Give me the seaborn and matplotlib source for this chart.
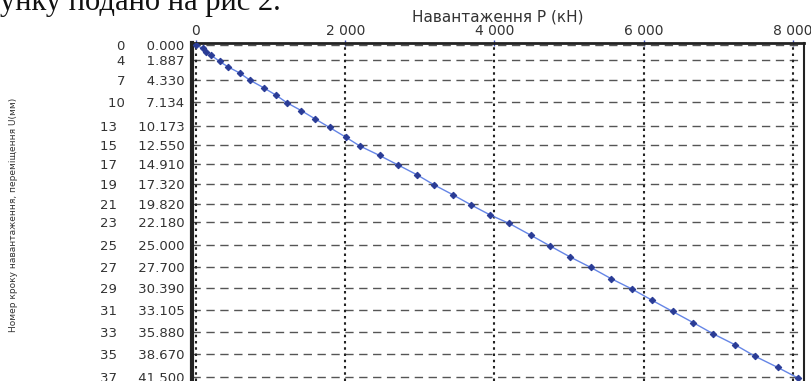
import matplotlib
matplotlib.use('Agg')
import matplotlib.pyplot as plt
import seaborn as sns
import pandas as pd

# Load P (kN) vs displacement U (mm)
load_kn = [0, 90, 134, 200, 317, 428, 588, 722, 909, 1070, 1226, 1413, 1591, 1791,
           2005, 2193, 2460, 2710, 2958, 3195, 3440, 3690, 3944, 4198, 4492, 4742,
           5015, 5290, 5562, 5842, 6110, 6386, 6662, 6930, 7229, 7490, 7794, 8061]
disp_mm = [0.0, 0.41, 0.84, 1.25, 2.04, 2.71, 3.5, 4.38, 5.34, 6.25, 7.25, 8.2, 9.2, 10.3,
           11.5, 12.6, 13.8, 15.0, 16.2, 17.5, 18.7, 20.0, 21.25, 22.3, 23.8, 25.1,
           26.5, 27.8, 29.2, 30.5, 31.9, 33.3, 34.7, 36.1, 37.5, 38.9, 40.3, 41.6]

# y ticks: load step number + displacement
step_no = [0, 4, 7, 10, 13, 15, 17, 19, 21, 23, 25, 27, 29, 31, 33, 35, 37]
step_disp = [0.000, 1.887, 4.330, 7.134, 10.173, 12.550, 14.910, 17.320, 19.820,
             22.180, 25.000, 27.700, 30.390, 33.105, 35.880, 38.670, 41.500]

x_ticks = [0, 2000, 4000, 6000, 8000]
x_tick_labels = ['0', '2 000', '4 000', '6 000', '8 000']

df = pd.DataFrame({'P': load_kn, 'U': disp_mm})

sns.set_style('white')
plt.rcParams['font.family'] = ['DejaVu Sans']

fig = plt.figure(figsize=(8.11, 3.81), dpi=100)
ax = fig.add_axes([192 / 811, 0.0, 612 / 811, 1 - 42.7 / 381])

sns.lineplot(data=df, x='P', y='U', ax=ax, color='#6585e6', linewidth=1.0,
             marker='D', markersize=3.3, markerfacecolor='#2a3c96',
             markeredgecolor='#2a3c96', sort=False, zorder=5)

ax.set_xlim(-53, 8147)
ax.set_ylim(42.0, -0.3)

# x axis on top
ax.xaxis.tick_top()
ax.xaxis.set_label_position('top')
ax.set_xticks(x_ticks)
ax.set_xticklabels(x_tick_labels, fontsize=10, color='#333333')
ax.set_xlabel('Навантаження P (кН)', fontsize=11, color='#333333', labelpad=2)

ax.set_yticks(step_disp)
ax.set_yticklabels([f'{s}     {v:.3f}' for s, v in zip(step_no, step_disp)],
                   fontsize=9.5, color='#333333')
ax.set_ylabel('Номер кроку навантаження, переміщення U(мм)', fontsize=6.5,
              color='#333333')
ax.yaxis.set_label_coords(-0.284, 0.49)

ax.tick_params(axis='both', which='both', direction='inout', length=5, width=1,
               color='#3a4bb0')
ax.tick_params(axis='y', pad=3)
ax.tick_params(axis='x', pad=1)

# grid: dashed horizontal, dotted vertical
ax.grid(False)
for v in step_disp:
    ax.axhline(v, color='#555555', linewidth=1.0, linestyle=(0, (6, 4)), zorder=1)
for v in x_ticks:
    ax.axvline(v, color='#222222', linewidth=1.5, linestyle=(0, (1.2, 1.8)), zorder=2)

for side in ['left', 'top', 'right', 'bottom']:
    ax.spines[side].set_visible(True)
    ax.spines[side].set_color('#222222')
ax.spines['left'].set_linewidth(3)
ax.spines['top'].set_linewidth(2)
ax.spines['right'].set_linewidth(1.5)
ax.spines['bottom'].set_linewidth(0)

# cut-off document line above the figure
fig.text(0.0, 1 - 10 / 381, 'унку подано на рис 2.', fontsize=22,
         family=['Liberation Serif', 'DejaVu Serif'], va='baseline', ha='left',
         color='#111111')

fig.savefig('out.png', dpi=100)
